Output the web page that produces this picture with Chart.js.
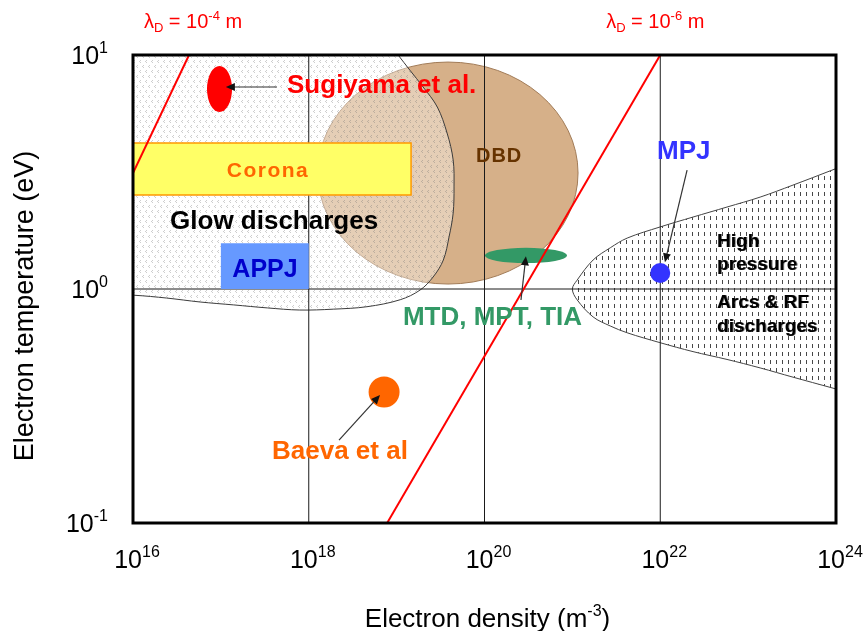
<!DOCTYPE html>
<html>
<head>
<meta charset="utf-8">
<title>Plasma regimes: electron temperature vs electron density</title>
<script src="https://cdn.jsdelivr.net/npm/chart.js@4/dist/chart.umd.min.js"></script>
<style>
  html, body { margin: 0; padding: 0; background: #ffffff; }
  #wrap { width: 868px; height: 631px; }
</style>
</head>
<body>
<div id="wrap"><canvas id="chart" width="868" height="631"></canvas></div>
<script>
// ---- Axis decades ----
const densityTicks = [1e16, 1e18, 1e20, 1e22, 1e24];     // m^-3
const temperatureTicks = [0.1, 1, 10];                   // eV

// ---- Glow discharge domain (outline, density / temperature) ----
const glowDensity = [7.1e15, 1.05e16, 2.4e16, 5.8e16, 1.4e17, 3.4e17, 7.9e17, 1.9e18, 4.6e18,
  1.1e19, 1.85e19, 2.6e19, 3.4e19, 3.95e19, 4.4e19, 4.5e19, 4.4e19, 3.75e19, 2.9e19, 2.0e19,
  1.42e19, 1.04e19, 8.0e18, 7.1e15];
const glowTemperature = [0.94, 0.94, 0.915, 0.88, 0.855, 0.83, 0.813, 0.82, 0.84,
  0.9, 0.99, 1.125, 1.33, 1.67, 2.11, 2.73, 3.56, 4.64, 6.0, 7.3,
  8.6, 10, 11.4, 11.4];

// ---- High-pressure arcs & RF discharges domain ----
const arcDensity = [1.44e24, 9.0e23, 3.24e23, 1.37e23, 5.75e22, 2.36e22, 9.9e21, 4.2e21, 2.7e21,
  1.72e21, 1.13e21, 1.0e21, 1.13e21, 1.72e21, 2.7e21, 4.2e21, 9.9e21, 2.36e22, 5.75e22,
  1.37e23, 3.24e23, 9.0e23, 1.44e24];
const arcTemperature = [3.45, 3.22, 2.78, 2.47, 2.24, 2.03, 1.84, 1.65, 1.5,
  1.33, 1.09, 1.0, 0.9, 0.76, 0.695, 0.65, 0.59, 0.54, 0.5,
  0.46, 0.42, 0.378, 0.36];

// ---- Rectangular domains [min, max] ----
const coronaDensity = [1e16, 1.46e19];
const coronaTemperature = [2.52, 4.21];
const appjDensity = [1e17, 1e18];
const appjTemperature = [1.0, 1.57];

// ---- Elliptical domains [min, max] ----
const dbdDensity = [1.27e18, 1.16e21];
const dbdTemperature = [1.05, 9.33];
const mtdDensity = [1.01e20, 8.7e20];
const mtdTemperature = [1.29, 1.50];
const sugiyamaDensity = [6.95e16, 1.34e17];
const sugiyamaTemperature = [5.71, 8.97];

// ---- Single operating points [density, temperature] ----
const mpjPoint = [1e22, 1.17];
const baevaPoint = [7.2e18, 0.363];

// ---- Constant Debye length lines (end points) ----
const debye4Density = [1e16, 4.34e16];
const debye4Temperature = [3.13, 10];
const debye6Density = [7.8e18, 1e22];
const debye6Temperature = [0.1, 10];

// ---------------------------------------------------------------
const FONT = '"Liberation Sans", Arial, sans-serif';

function pts(xs, ys) { return xs.map((x, i) => ({ x: x, y: ys[i] })); }
function box(xr, yr) {
  return [
    { x: xr[0], y: yr[0] }, { x: xr[1], y: yr[0] }, { x: xr[1], y: yr[1] },
    { x: xr[0], y: yr[1] }, { x: xr[0], y: yr[0] }
  ];
}

// light grey chevron texture for the glow region
function glowPattern() {
  const c = document.createElement('canvas');
  c.width = 6; c.height = 10;
  const g = c.getContext('2d');
  g.fillStyle = 'rgba(255,255,255,0.38)';
  g.fillRect(0, 0, 6, 10);
  g.fillStyle = 'rgba(110,110,110,0.34)';
  [[2, 0], [1, 1], [2, 2], [5, 5], [4, 6], [5, 7]].forEach(p => g.fillRect(p[0], p[1], 1, 1));
  return g.createPattern(c, 'repeat');
}
// dashed texture for the high-pressure region
function arcPattern() {
  const c = document.createElement('canvas');
  c.width = 6; c.height = 8;
  const g = c.getContext('2d');
  g.fillStyle = '#ffffff';
  g.fillRect(0, 0, 6, 8);
  g.fillStyle = 'rgba(0,0,0,0.72)';
  g.fillRect(2, 0, 1, 4);
  return g.createPattern(c, 'repeat');
}

// text annotations, anchored in data coordinates
const labels = [
  { t: 'Sugiyama et al.', x: 5.66e17, y: 6.88, size: 26, color: '#FF0000', align: 'left' },
  { t: 'Corona', x: 3.44e17, y: 3.01, size: 21, color: '#FF6600', align: 'center', spacing: 1.5 },
  { t: 'Glow discharges', x: 2.64e16, y: 1.805, size: 26, color: '#000000', align: 'left' },
  { t: 'APPJ', x: 3.18e17, y: 1.125, size: 25, color: '#0000CC', align: 'center' },
  { t: 'DBD', x: 8.0e19, y: 3.49, size: 20, color: '#663300', align: 'left', spacing: 1 },
  { t: 'MTD, MPT, TIA', x: 1.18e19, y: 0.702, size: 26, color: '#339966', align: 'left' },
  { t: 'MPJ', x: 9.18e21, y: 3.59, size: 26, color: '#3333FF', align: 'left' },
  { t: 'Baeva et al', x: 3.82e17, y: 0.188, size: 26, color: '#FF6600', align: 'left' },
  { t: 'High', x: 4.43e22, y: 1.512, size: 19, color: '#000000', align: 'left', heavy: true },
  { t: 'pressure', x: 4.43e22, y: 1.206, size: 19, color: '#000000', align: 'left', heavy: true },
  { t: 'Arcs & RF', x: 4.43e22, y: 0.829, size: 19, color: '#000000', align: 'left', heavy: true },
  { t: 'discharges', x: 4.43e22, y: 0.655, size: 19, color: '#000000', align: 'left', heavy: true }
];

// pointer arrows [fromDensity, fromTemp, toDensity, toTemp]
const arrows = [
  [4.35e17, 7.3, 1.14e17, 7.3],
  [2.6e20, 0.897, 2.96e20, 1.38],
  [2.02e22, 3.22, 1.13e22, 1.30],
  [2.21e18, 0.226, 6.47e18, 0.352]
];

function drawRich(ctx, parts, x, y, align) {
  let w = 0;
  parts.forEach(p => { ctx.font = (p.bold ? 'bold ' : '') + p.size + 'px ' + FONT; w += ctx.measureText(p.t).width; });
  let cx = align === 'center' ? x - w / 2 : (align === 'right' ? x - w : x);
  ctx.textAlign = 'left';
  ctx.textBaseline = 'alphabetic';
  parts.forEach(p => {
    ctx.font = (p.bold ? 'bold ' : '') + p.size + 'px ' + FONT;
    ctx.fillText(p.t, cx, y + (p.dy || 0));
    cx += ctx.measureText(p.t).width;
  });
}

function ellipse(ctx, sx, sy, xr, yr, fill, stroke) {
  const x0 = sx.getPixelForValue(xr[0]), x1 = sx.getPixelForValue(xr[1]);
  const y0 = sy.getPixelForValue(yr[0]), y1 = sy.getPixelForValue(yr[1]);
  ctx.beginPath();
  ctx.ellipse((x0 + x1) / 2, (y0 + y1) / 2, Math.abs(x1 - x0) / 2, Math.abs(y1 - y0) / 2, 0, 0, Math.PI * 2);
  ctx.fillStyle = fill;
  ctx.fill();
  if (stroke) { ctx.strokeStyle = stroke; ctx.lineWidth = 1; ctx.stroke(); }
}

const plasmaPlugin = {
  id: 'plasmaRegimes',
  beforeDraw(chart) {
    const ctx = chart.ctx;
    ctx.save();
    ctx.fillStyle = '#ffffff';
    ctx.fillRect(0, 0, chart.width, chart.height);
    ctx.restore();
  },
  beforeDatasetsDraw(chart) {
    const { ctx, scales: { x, y } } = chart;
    ctx.save();
    ellipse(ctx, x, y, dbdDensity, dbdTemperature, '#D6B089', '#A27C58');
    ctx.restore();
  },
  afterDatasetDraw(chart, args) {
    if (chart.data.datasets[args.index].label !== 'APPJ') return;
    const { ctx, scales: { x, y } } = chart;
    ctx.save();
    ellipse(ctx, x, y, mtdDensity, mtdTemperature, '#339966');
    ellipse(ctx, x, y, sugiyamaDensity, sugiyamaTemperature, '#FF0000');
    ctx.restore();
  },
  afterDatasetsDraw(chart) {
    const { ctx, chartArea: a, scales: { x, y } } = chart;
    ctx.save();
    // plot frame
    ctx.strokeStyle = '#000000';
    ctx.lineWidth = 3;
    ctx.strokeRect(a.left, a.top, a.right - a.left, a.bottom - a.top);

    // pointer arrows
    arrows.forEach(r => {
      const x0 = x.getPixelForValue(r[0]), y0 = y.getPixelForValue(r[1]);
      const x1 = x.getPixelForValue(r[2]), y1 = y.getPixelForValue(r[3]);
      const ang = Math.atan2(y1 - y0, x1 - x0);
      const L = 9, W = 4;
      ctx.strokeStyle = '#333333';
      ctx.lineWidth = 1.2;
      ctx.beginPath();
      ctx.moveTo(x0, y0);
      ctx.lineTo(x1 - Math.cos(ang) * L * 0.8, y1 - Math.sin(ang) * L * 0.8);
      ctx.stroke();
      ctx.fillStyle = '#111111';
      ctx.beginPath();
      ctx.moveTo(x1, y1);
      ctx.lineTo(x1 - Math.cos(ang) * L - Math.sin(ang) * W, y1 - Math.sin(ang) * L + Math.cos(ang) * W);
      ctx.lineTo(x1 - Math.cos(ang) * L + Math.sin(ang) * W, y1 - Math.sin(ang) * L - Math.cos(ang) * W);
      ctx.closePath();
      ctx.fill();
    });

    // region / point labels
    labels.forEach(l => {
      const px = x.getPixelForValue(l.x), py = y.getPixelForValue(l.y);
      ctx.font = 'bold ' + l.size + 'px ' + FONT;
      ctx.letterSpacing = (l.spacing || 0) + 'px';
      ctx.textAlign = l.align;
      ctx.textBaseline = 'alphabetic';
      ctx.fillStyle = l.color;
      if (l.heavy) {
        ctx.globalAlpha = 0.55;
        ctx.fillText(l.t, px + 1, py);
        ctx.globalAlpha = 1;
      }
      ctx.fillText(l.t, px, py);
      ctx.letterSpacing = '0px';
    });
    ctx.restore();
  },
  afterDraw(chart) {
    const { ctx, chartArea: a, scales: { x, y } } = chart;
    ctx.save();
    ctx.fillStyle = '#000000';
    // density decades
    densityTicks.forEach(v => {
      const e = Math.round(Math.log10(v));
      drawRich(ctx, [{ t: '10', size: 25 }, { t: String(e), size: 16, dy: -11 }],
        x.getPixelForValue(v) + 4, a.bottom + 45, 'center');
    });
    // temperature decades
    temperatureTicks.forEach(v => {
      const e = Math.round(Math.log10(v));
      drawRich(ctx, [{ t: '10', size: 25 }, { t: String(e), size: 16, dy: -11 }],
        a.left - 25, y.getPixelForValue(v) + 9, 'right');
    });
    // axis titles
    drawRich(ctx, [{ t: 'Electron density (m', size: 26 }, { t: '-3', size: 16, dy: -11 }, { t: ')', size: 26 }],
      (a.left + a.right) / 2 + 3, 627, 'center');
    ctx.save();
    ctx.translate(33, (a.top + a.bottom) / 2 + 17);
    ctx.rotate(-Math.PI / 2);
    drawRich(ctx, [{ t: 'Electron temperature (eV)', size: 27 }], 0, 0, 'center');
    ctx.restore();

    // Debye length captions above the upper ends of the two lines
    ctx.fillStyle = '#FF0000';
    const cap = (e) => [{ t: 'λ', size: 20 }, { t: 'D', size: 13, dy: 4 }, { t: ' = 10', size: 20 },
      { t: e, size: 13, dy: -8 }, { t: ' m', size: 20 }];
    drawRich(ctx, cap('-4'), x.getPixelForValue(debye4Density[1]) + 4, a.top - 27, 'center');
    drawRich(ctx, cap('-6'), x.getPixelForValue(debye6Density[1]) - 5, a.top - 27, 'center');
    ctx.restore();
  }
};

// ---- datasets ----
const datasets = [];
datasets.push({
  label: 'Glow discharges', data: pts(glowDensity, glowTemperature), showLine: true,
  fill: 'shape', backgroundColor: glowPattern(), borderColor: '#3c3c3c', borderWidth: 1,
  tension: 0.35, order: 10
});
datasets.push({
  label: 'High pressure arcs & RF discharges', data: pts(arcDensity, arcTemperature), showLine: true,
  fill: 'shape', backgroundColor: arcPattern(), borderColor: '#444444', borderWidth: 1,
  tension: 0.35, order: 9
});
densityTicks.slice(1, -1).forEach(v => datasets.push({
  label: 'grid', data: [{ x: v, y: temperatureTicks[0] }, { x: v, y: temperatureTicks[temperatureTicks.length - 1] }],
  showLine: true, borderColor: '#1a1a1a', borderWidth: 1, order: 8
}));
temperatureTicks.slice(1, -1).forEach(v => datasets.push({
  label: 'grid', data: [{ x: densityTicks[0], y: v }, { x: densityTicks[densityTicks.length - 1], y: v }],
  showLine: true, borderColor: '#1a1a1a', borderWidth: 1, order: 8
}));
datasets.push({
  label: 'Corona', data: box(coronaDensity, coronaTemperature), showLine: true,
  fill: 'shape', backgroundColor: '#FFFF66', borderColor: '#FF9900', borderWidth: 1.5, order: 7
});
datasets.push({
  label: 'APPJ', data: box(appjDensity, appjTemperature), showLine: true,
  fill: 'shape', backgroundColor: '#6699FF', borderColor: '#6699FF', borderWidth: 0, order: 6
});
datasets.push({
  label: 'Debye length 1e-4 m', data: pts(debye4Density, debye4Temperature), showLine: true,
  borderColor: '#FF0000', borderWidth: 2, order: 5
});
datasets.push({
  label: 'Debye length 1e-6 m', data: pts(debye6Density, debye6Temperature), showLine: true,
  borderColor: '#FF0000', borderWidth: 2, order: 5
});
datasets.push({
  label: 'MPJ', data: [{ x: mpjPoint[0], y: mpjPoint[1] }], showLine: false,
  pointRadius: 10, pointBackgroundColor: '#3333FF', pointBorderWidth: 0, order: 2
});
datasets.push({
  label: 'Baeva et al', data: [{ x: baevaPoint[0], y: baevaPoint[1] }], showLine: false,
  pointRadius: 15.5, pointBackgroundColor: '#FF6600', pointBorderWidth: 0, order: 2
});

new Chart(document.getElementById('chart').getContext('2d'), {
  type: 'scatter',
  data: { datasets: datasets },
  options: {
    responsive: false,
    animation: false,
    devicePixelRatio: 1,
    events: [],
    layout: { padding: { left: 133, top: 55, right: 32, bottom: 108 } },
    scales: {
      x: { type: 'logarithmic', min: densityTicks[0], max: densityTicks[densityTicks.length - 1], display: false },
      y: { type: 'logarithmic', min: temperatureTicks[0], max: temperatureTicks[temperatureTicks.length - 1], display: false }
    },
    elements: { point: { radius: 0, hoverRadius: 0 }, line: { tension: 0 } },
    plugins: { legend: { display: false }, tooltip: { enabled: false } }
  },
  plugins: [plasmaPlugin]
});
</script>
</body>
</html>
